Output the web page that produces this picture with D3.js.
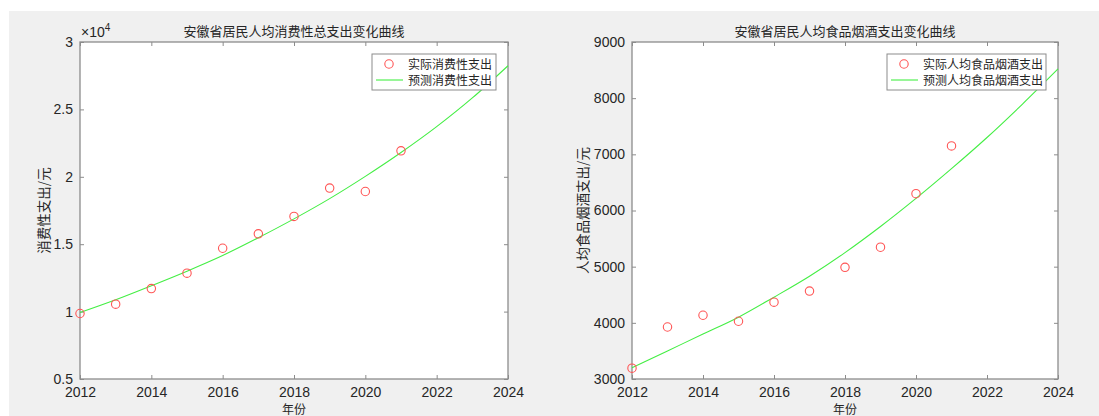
<!DOCTYPE html>
<html>
<head>
<meta charset="utf-8">
<script src="https://cdn.jsdelivr.net/npm/d3@7"></script>
<style>
  body { margin: 0; background: #fff; }
  svg { display: block; }
</style>
</head>
<body>
<svg id="chart" width="1099" height="416"></svg>
<script>
const years = [2012, 2013, 2014, 2015, 2016, 2017, 2018, 2019, 2020, 2021];
const fitYears = [2012, 2013, 2014, 2015, 2016, 2017, 2018, 2019, 2020, 2021, 2022, 2023, 2024];

// 消费性总支出 (元)
const consumeActual = [9860, 10550, 11710, 12850, 14700, 15770, 17060, 19160, 18910, 21930];
const consumePred = [9930, 10880, 11920, 13000, 14160, 15480, 16880, 18380, 20030, 21800, 23720, 25850, 28240];

// 食品烟酒支出 (元)
const foodActual = [3192, 3926, 4135, 4028, 4368, 4565, 4988, 5346, 6300, 7150];
const foodPred = [3200, 3500, 3800, 4100, 4457, 4830, 5250, 5715, 6215, 6745, 7300, 7895, 8520];

const xTicks = [2012, 2014, 2016, 2018, 2020, 2022, 2024];
const consumeTicks = [5000, 10000, 15000, 20000, 25000, 30000];
const foodTicks = [3000, 4000, 5000, 6000, 7000, 8000, 9000];

const font_family = "Helvetica, Arial, 'Liberation Sans', sans-serif";
const cjk_family = "'Noto Sans CJK SC', sans-serif";
const axis_color = '#8c8c8c';
const text_color = '#262626';

const svg = d3.select('#chart');

// figure background
svg.append('rect')
    .attr('x', 9).attr('y', 11)
    .attr('width', 1090).attr('height', 405)
    .attr('fill', '#f0f0f0');

function drawPanel({ left, right, top, bottom, title, ylabel, yDomain, yTicks, yFormat, actual, pred, legendLabels, legendBox, exponent }) {
    const x = d3.scaleLinear().domain([2012, 2024]).range([left, right]);
    const y = d3.scaleLinear().domain(yDomain).range([bottom, top]);

    const g = svg.append('g');

    // plot area
    g.append('rect')
        .attr('x', left).attr('y', top)
        .attr('width', right - left).attr('height', bottom - top)
        .attr('fill', '#fff');

    // axes (box with inward ticks on all sides)
    const styleAxis = sel => {
        sel.select('.domain').remove();
        sel.selectAll('line').attr('stroke', axis_color);
        sel.selectAll('text')
            .attr('fill', text_color)
            .attr('font-family', font_family)
            .attr('font-size', 14);
    };

    g.append('g')
        .attr('transform', `translate(0,${bottom})`)
        .call(d3.axisBottom(x).tickValues(xTicks).tickFormat(d3.format('d')).tickSizeInner(-4).tickSizeOuter(0).tickPadding(8))
        .call(styleAxis);
    g.append('g')
        .attr('transform', `translate(0,${top})`)
        .call(d3.axisTop(x).tickValues(xTicks).tickFormat('').tickSizeInner(-4).tickSizeOuter(0))
        .call(styleAxis);
    g.append('g')
        .attr('transform', `translate(${left},0)`)
        .call(d3.axisLeft(y).tickValues(yTicks).tickFormat(yFormat).tickSizeInner(-4).tickSizeOuter(0).tickPadding(7))
        .call(styleAxis);
    g.append('g')
        .attr('transform', `translate(${right},0)`)
        .call(d3.axisRight(y).tickValues(yTicks).tickFormat('').tickSizeInner(-4).tickSizeOuter(0))
        .call(styleAxis);

    g.append('rect')
        .attr('x', left).attr('y', top)
        .attr('width', right - left).attr('height', bottom - top)
        .attr('fill', 'none')
        .attr('stroke', axis_color)
        .attr('stroke-width', 1.3);

    // predicted curve
    const line = d3.line()
        .x((d, i) => x(fitYears[i]))
        .y(d => y(d))
        .curve(d3.curveMonotoneX);

    g.append('path')
        .datum(pred)
        .attr('d', line)
        .attr('fill', 'none')
        .attr('stroke', '#44ee44')
        .attr('stroke-width', 1.1);

    // actual points
    g.selectAll('circle.actual')
        .data(actual)
        .enter()
        .append('circle')
        .attr('class', 'actual')
        .attr('cx', (d, i) => x(years[i]))
        .attr('cy', d => y(d))
        .attr('r', 4.2)
        .attr('fill', 'none')
        .attr('stroke', '#ff5555')
        .attr('stroke-width', 1.1);

    // title
    g.append('text')
        .attr('x', (left + right) / 2)
        .attr('y', top - 6)
        .attr('text-anchor', 'middle')
        .attr('fill', text_color)
        .attr('font-family', cjk_family)
        .attr('font-size', 13)
        .text(title);

    // x label
    g.append('text')
        .attr('x', (left + right) / 2)
        .attr('y', bottom + 35)
        .attr('text-anchor', 'middle')
        .attr('fill', text_color)
        .attr('font-family', cjk_family)
        .attr('font-size', 12)
        .text('年份');

    // y label
    g.append('text')
        .attr('transform', `translate(${left - (exponent ? 31 : 44)},${(top + bottom) / 2}) rotate(-90)`)
        .attr('text-anchor', 'middle')
        .attr('fill', text_color)
        .attr('font-family', cjk_family)
        .attr('font-size', 13.5)
        .text(ylabel);

    if (exponent) {
        const ex = g.append('text')
            .attr('x', left + 1)
            .attr('y', top - 5)
            .attr('fill', text_color)
            .attr('font-family', font_family)
            .attr('font-size', 14);
        ex.append('tspan').text('\u00d710');
        ex.append('tspan').attr('dy', -6).attr('font-size', 10).text('4');
    }

    // legend
    const lg = g.append('g');
    lg.append('rect')
        .attr('x', legendBox[0]).attr('y', top + 12)
        .attr('width', legendBox[1] - legendBox[0]).attr('height', 36)
        .attr('fill', '#fff')
        .attr('stroke', axis_color)
        .attr('stroke-width', 1);
    lg.append('circle')
        .attr('cx', legendBox[0] + 17)
        .attr('cy', top + 22)
        .attr('r', 4.2)
        .attr('fill', 'none')
        .attr('stroke', '#ff5555')
        .attr('stroke-width', 1.1);
    lg.append('line')
        .attr('x1', legendBox[0] + 4).attr('x2', legendBox[0] + 31)
        .attr('y1', top + 38).attr('y2', top + 38)
        .attr('stroke', '#44ee44')
        .attr('stroke-width', 1.1);
    lg.selectAll('text.lg')
        .data(legendLabels)
        .enter()
        .append('text')
        .attr('class', 'lg')
        .attr('x', legendBox[0] + 36)
        .attr('y', (d, i) => top + 26.5 + i * 16)
        .attr('fill', text_color)
        .attr('font-family', cjk_family)
        .attr('font-size', 12)
        .text(d => d);
}

drawPanel({
    left: 80, right: 508, top: 42, bottom: 379,
    title: '安徽省居民人均消费性总支出变化曲线',
    ylabel: '消费性支出/元',
    yDomain: [5000, 30000], yTicks: consumeTicks,
    yFormat: d => d3.format('~g')(d / 10000),
    actual: consumeActual, pred: consumePred,
    legendLabels: ['实际消费性支出', '预测消费性支出'],
    legendBox: [372, 496],
    exponent: true
});

drawPanel({
    left: 632, right: 1058, top: 42, bottom: 379,
    title: '安徽省居民人均食品烟酒支出变化曲线',
    ylabel: '人均食品烟酒支出/元',
    yDomain: [3000, 9000], yTicks: foodTicks,
    yFormat: d3.format('d'),
    actual: foodActual, pred: foodPred,
    legendLabels: ['实际人均食品烟酒支出', '预测人均食品烟酒支出'],
    legendBox: [887, 1046],
    exponent: false
});
</script>
</body>
</html>
